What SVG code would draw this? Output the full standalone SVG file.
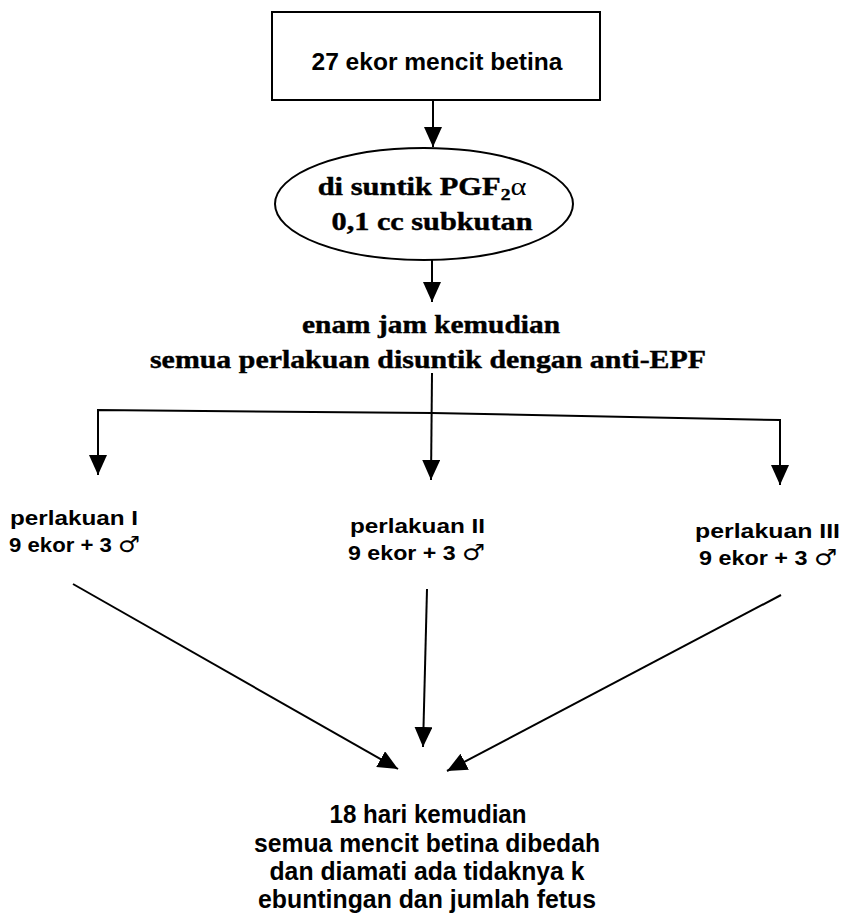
<svg xmlns="http://www.w3.org/2000/svg" width="843" height="917" viewBox="0 0 843 917">
<defs>
<style>
.sans{font-family:"Liberation Sans",Arial,sans-serif;font-weight:bold;fill:#000}
.serif{font-family:"Liberation Serif","Times New Roman",serif;font-weight:bold;fill:#000;stroke:#000;stroke-width:0.4}
.sym{font-family:"DejaVu Sans",sans-serif;font-weight:normal;font-size:22px}
.shape{fill:#fff;stroke:#000;stroke-width:2}
.conn{fill:none;stroke:#000;stroke-width:2}
</style>
<marker id="ah" markerUnits="userSpaceOnUse" markerWidth="20" markerHeight="18" refX="20" refY="9" orient="auto">
<path d="M0,0 L20,9 L0,18 z" fill="#000"/>
</marker>
</defs>
<rect width="843" height="917" fill="#fff"/>
<g id="connectors">
<line class="conn" x1="433" y1="100" x2="433" y2="147" marker-end="url(#ah)"/>
<line class="conn" x1="432" y1="259" x2="432" y2="302" marker-end="url(#ah)"/>
<line class="conn" x1="432" y1="373" x2="431" y2="480" marker-end="url(#ah)"/>
<polyline class="conn" points="98,475 98,410 432,413 780,420 780,485" marker-end="url(#ah)"/>
<line class="conn" x1="98" y1="420" x2="98" y2="475" marker-end="url(#ah)"/>
<line class="conn" x1="73" y1="584" x2="398" y2="769" marker-end="url(#ah)"/>
<line class="conn" x1="427" y1="589" x2="423" y2="747" marker-end="url(#ah)"/>
<line class="conn" x1="781" y1="595" x2="447" y2="771" marker-end="url(#ah)"/>
</g>
<g id="n_start">
<rect class="shape" x="272" y="12" width="328" height="88"/>
<text class="sans" x="437" y="70" font-size="24" text-anchor="middle" textLength="251" lengthAdjust="spacingAndGlyphs">27 ekor mencit betina</text>
</g>
<g id="n_inject">
<ellipse class="shape" cx="424" cy="204" rx="149" ry="56"/>
<text class="serif" font-size="25" text-anchor="middle" transform="translate(422,195) scale(1.22,1)">di suntik PGF<tspan font-size="16" dy="5">2</tspan><tspan dy="-5" font-weight="normal" stroke-width="0">α</tspan></text>
<text class="serif" x="432" y="230" font-size="25" text-anchor="middle" textLength="201" lengthAdjust="spacingAndGlyphs">0,1 cc subkutan</text>
</g>
<g id="n_six">
<text class="serif" x="431" y="333" font-size="25" text-anchor="middle" textLength="258" lengthAdjust="spacingAndGlyphs">enam jam kemudian</text>
<text class="serif" x="428" y="368" font-size="25" text-anchor="middle" textLength="556" lengthAdjust="spacingAndGlyphs">semua perlakuan disuntik dengan anti-EPF</text>
</g>
<g id="n_p1">
<text class="sans" x="10" y="525" font-size="20" textLength="128" lengthAdjust="spacingAndGlyphs">perlakuan I</text>
<text class="sans" x="9" y="552" font-size="20" textLength="131" lengthAdjust="spacingAndGlyphs">9 ekor + 3 <tspan class="sym">♂</tspan></text>
</g>
<g id="n_p2">
<text class="sans" x="350" y="533" font-size="20" textLength="135" lengthAdjust="spacingAndGlyphs">perlakuan II</text>
<text class="sans" x="348" y="560" font-size="20" textLength="137" lengthAdjust="spacingAndGlyphs">9 ekor + 3 <tspan class="sym">♂</tspan></text>
</g>
<g id="n_p3">
<text class="sans" x="695" y="538" font-size="20" textLength="145" lengthAdjust="spacingAndGlyphs">perlakuan III</text>
<text class="sans" x="699" y="565" font-size="20" textLength="138" lengthAdjust="spacingAndGlyphs">9 ekor + 3 <tspan class="sym">♂</tspan></text>
</g>
<g id="n_end">
<text class="sans" x="428" y="823" font-size="25" text-anchor="middle" textLength="197" lengthAdjust="spacingAndGlyphs">18 hari kemudian</text>
<text class="sans" x="427" y="852" font-size="25" text-anchor="middle" textLength="346" lengthAdjust="spacingAndGlyphs">semua mencit betina dibedah</text>
<text class="sans" x="427" y="880" font-size="25" text-anchor="middle" textLength="315" lengthAdjust="spacingAndGlyphs">dan diamati ada tidaknya k</text>
<text class="sans" x="427" y="908" font-size="25" text-anchor="middle" textLength="338" lengthAdjust="spacingAndGlyphs">ebuntingan dan jumlah fetus</text>
</g>
</svg>
